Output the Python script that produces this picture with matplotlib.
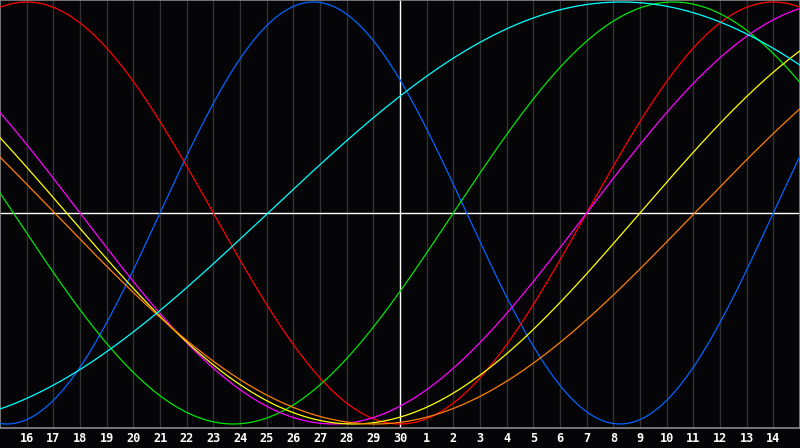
import numpy as np
import matplotlib
matplotlib.use("Agg")
import matplotlib.pyplot as plt

# ---- data ----
day_labels = list(range(16, 31)) + list(range(1, 15))      # tick labels (one per grid line)
today_label = 30                                            # white vertical marker
span_days = 30                                              # days shown across the chart

cycle_names = ["Physical", "Emotional", "Intellectual", "Intuitive",
               "Aesthetic", "Awareness", "Spiritual"]
cycle_periods = [23, 28, 33, 38, 43, 48, 53]
# day position (0 = left edge) where each cycle crosses zero going upward
cycle_upcross = [29.0, 22.0, 17.0, 22.0, 24.0, 26.05, 10.05]
cycle_colors = ["#0064ff", "#ff0000", "#00e600", "#ff00ff", "#ffff00", "#ff8000", "#00ffff"]

# ---- figure ----
W, H = 800, 448
fig = plt.figure(figsize=(W / 100, H / 100), dpi=100, facecolor="#050508")
plot_h = 428
ax = fig.add_axes([0, (H - plot_h) / H, 1, plot_h / H])
ax.set_facecolor("#050508")

ax.set_xlim(0, span_days)
ax.set_ylim((213 - 428) / 211, 213 / 211)

# grid lines
positions = np.arange(1, len(day_labels) + 1)
today_pos = positions[day_labels.index(today_label)]
for p in positions:
    if p != today_pos:
        ax.axvline(p, color="#313131", lw=1.0, zorder=1)
ax.axvline(today_pos, color="#ffffff", lw=1.0, zorder=2)
ax.axhline(0, color="#ffffff", lw=1.0, zorder=2)

# cycles
d = np.linspace(0, span_days, 1200)
for name, per, z, col in zip(cycle_names, cycle_periods, cycle_upcross, cycle_colors):
    ax.plot(d, np.sin(2 * np.pi * (d - z) / per), color=col, lw=0.9, zorder=3, label=name)

ax.set_xticks([])
ax.set_yticks([])
for s in ax.spines.values():
    s.set_color("#8a8a8a")
    s.set_linewidth(1.2)

# day labels
for p, lab in zip(positions, day_labels):
    fig.text(p / span_days, 9.5 / H, str(lab), color="white", ha="center", va="center",
             fontsize=8.6, fontweight="bold", family="DejaVu Sans Mono")

fig.savefig("out.png", dpi=100, facecolor=fig.get_facecolor())
